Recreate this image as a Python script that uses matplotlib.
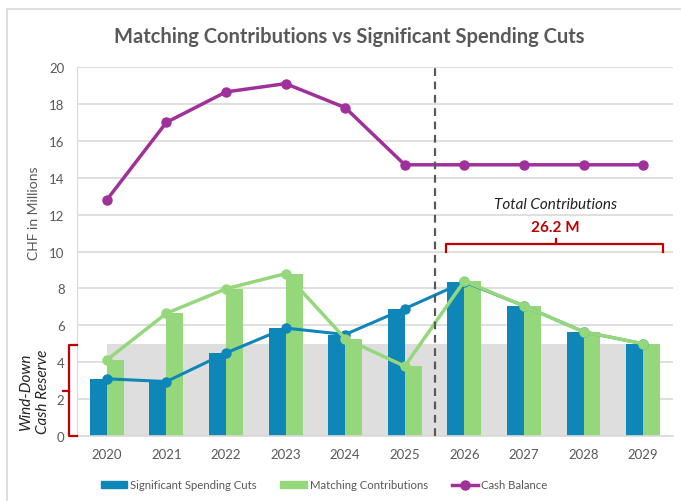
import matplotlib
matplotlib.use("Agg")
import matplotlib.pyplot as plt
from matplotlib.lines import Line2D
from matplotlib.patches import Patch, Rectangle
import numpy as np

years = ["2020", "2021", "2022", "2023", "2024", "2025", "2026", "2027", "2028", "2029"]
spending_cuts = [3.1, 2.95, 4.5, 5.85, 5.5, 6.9, 8.35, 7.05, 5.65, 5.0]
matching = [4.12, 6.65, 7.98, 8.8, 5.28, 3.78, 8.4, 7.05, 5.65, 5.0]
cash_balance = [12.8, 17.0, 18.65, 19.1, 17.8, 14.7, 14.7, 14.7, 14.7, 14.7]
reserve_level = 5.0
total_label = "26.2 M"

BLUE = "#0F86B8"
GREEN = "#95D87B"
PURPLE = "#A0309A"
RED = "#C00000"
GREY_TXT = "#595959"

plt.rcParams["font.family"] = ["Lato", "DejaVu Sans"]

fig = plt.figure(figsize=(6.81, 5.02), dpi=100)
ax = fig.add_axes([0.1131, 0.1295, 0.875, 0.735])

x = np.arange(len(years))
w = 0.285

# wind-down reserve band
ax.add_patch(Rectangle((0, 0), x[-1] + w, reserve_level, color="#DEDEDE", zorder=1, lw=0))

ax.bar(x - w / 2, spending_cuts, w, color=BLUE, zorder=2)
ax.bar(x + w / 2, matching, w, color=GREEN, zorder=2)

ax.plot(x, spending_cuts, color=BLUE, lw=2.2, marker="o", ms=6.5, zorder=3)
ax.plot(x, matching, color=GREEN, lw=2.5, marker="o", ms=6.5, zorder=4)
ax.plot(x, cash_balance, color=PURPLE, lw=2.5, marker="o", ms=6.5, zorder=5)

ax.axvline(5.5, ymin=0, ymax=1, color="#595959", lw=1.6, ls=(0, (3.5, 2.5)), zorder=6)

ax.set_xlim(-0.5, 9.5)
ax.set_ylim(0, 20)
ax.set_yticks(range(0, 21, 2))
ax.set_xticks(x)
ax.set_xticklabels(years)
ax.grid(axis="y", color="#D9D9D9", lw=1.2, zorder=0)
ax.set_axisbelow(True)
for s in ["top", "right"]:
    ax.spines[s].set_visible(False)
ax.spines["left"].set_color("#D9D9D9")
ax.spines["bottom"].set_color("#D9D9D9")
ax.spines["bottom"].set_linewidth(1.2)
ax.tick_params(length=0, colors=GREY_TXT, labelsize=9.5)
ax.tick_params(axis="x", pad=9)
ax.tick_params(axis="y", pad=9)
ax.set_ylabel("CHF in Millions", color=GREY_TXT, fontsize=10)
ax.yaxis.set_label_coords(-0.062, 0.607)

# total contributions bracket
bx0, bx1, bxm = 5.7, 9.34, 7.53
ax.plot([bx0, bx0, bx1, bx1], [10.0, 10.4, 10.4, 10.0], color=RED, lw=1.6, clip_on=False, zorder=7)
ax.plot([bxm, bxm], [10.4, 10.7], color=RED, lw=1.6, zorder=7)
ax.text(bxm, 11.35, total_label, color=RED, fontsize=11, fontweight="bold", ha="center", va="center")
ax.text(bxm, 12.57, "Total Contributions", color="#222222", fontsize=11, style="italic",
        ha="center", va="center")

# wind-down bracket
lx, lx_end, lx_mid = -0.634, -0.5, -0.734
ax.plot([lx_end, lx, lx, lx_end], [reserve_level - 0.05, reserve_level - 0.05, 0, 0],
        color=RED, lw=1.6, clip_on=False, zorder=7)
ax.plot([lx, lx_mid], [2.45, 2.45], color=RED, lw=1.6, clip_on=False, zorder=7)
ax.text(-1.215, 2.45, "Wind-Down\nCash Reserve", rotation=90, style="italic", fontsize=11,
        color="#222222", ha="center", va="center", linespacing=1.2)

fig.text(0.513, 0.926, "Matching Contributions vs Significant Spending Cuts",
         fontweight="bold", fontsize=14.5, color=GREY_TXT, ha="center", va="center")

handles = [
    Patch(color=BLUE, label="Significant Spending Cuts"),
    Patch(color=GREEN, label="Matching Contributions"),
    Line2D([], [], color=PURPLE, lw=2.5, marker="o", ms=6.5, label="Cash Balance"),
]
leg = fig.legend(handles=handles, loc="center left", bbox_to_anchor=(0.148, 0.032), ncol=3, frameon=False,
                 fontsize=8.2, handlelength=2.3, handleheight=0.6, handletextpad=0.26, columnspacing=2.1,
                 borderpad=0, borderaxespad=0)
for t in leg.get_texts():
    t.set_color(GREY_TXT)

fig.add_artist(Rectangle((0.011, -0.01), 1.0, 0.99, transform=fig.transFigure, fill=False,
                         ec="#D9D9D9", lw=1.2))

fig.savefig("out.png", dpi=100)
